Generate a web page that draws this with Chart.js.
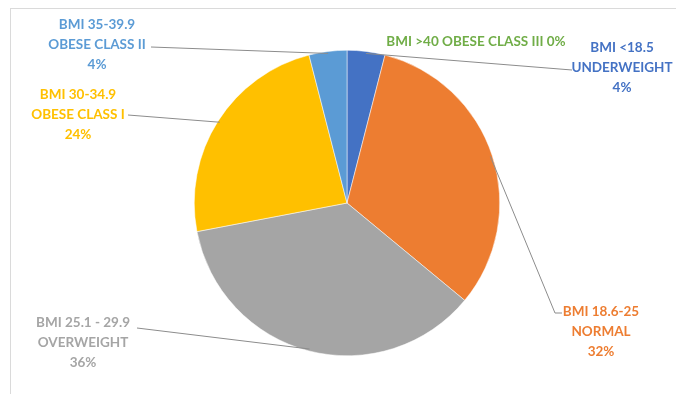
<!DOCTYPE html>
<html>
<head>
<meta charset="utf-8">
<script src="https://cdn.jsdelivr.net/npm/chart.js@4"></script>
<style>
  html, body { margin: 0; padding: 0; background: #fff; }
  #wrap { position: relative; width: 676px; height: 394px; }
  #frame { position: absolute; left: 10px; top: 8px; width: 700px; height: 400px; border: 1px solid #dadada; }
</style>
</head>
<body>
<div id="wrap">
  <div id="frame"></div>
  <canvas id="bmiChart" width="676" height="394"></canvas>
</div>
<script>
// categories (label line 1, line 2) and shares in %
const rangeLabels = ['BMI <18.5', 'BMI 18.6-25', 'BMI 25.1 - 29.9', 'BMI 30-34.9', 'BMI 35-39.9', 'BMI >40'];
const classLabels = ['UNDERWEIGHT', 'NORMAL', 'OVERWEIGHT', 'OBESE CLASS I', 'OBESE CLASS II', 'OBESE CLASS III'];
const shares = [4, 32, 36, 24, 4, 0];
const colors = ['#4472C4', '#ED7D31', '#A5A5A5', '#FFC000', '#5B9BD5', '#70AD47'];

// where each data label sits (center x, first line y) and where its leader meets it
const labelPlaces = [
  { x: 622, y: 48, lead: [572, 70], single: false },
  { x: 601, y: 312, lead: [562, 313], bend: [555, 313], single: false },
  { x: 83, y: 323, lead: [137, 328], single: false },
  { x: 78, y: 95, lead: [128, 115], single: false },
  { x: 97, y: 25, lead: [151, 47], single: false },
  { x: 476, y: 42, lead: null, single: true }
];

// data labels with leader lines, drawn by hand like excel does
const leaderLabels = {
  id: 'leaderLabels',
  afterDatasetsDraw(chart) {
    const ctx = chart.ctx;
    const meta = chart.getDatasetMeta(0);
    ctx.save();
    ctx.font = 'bold 13.5px Lato, "Open Sans", sans-serif';
    ctx.textAlign = 'center';
    ctx.textBaseline = 'middle';
    meta.data.forEach((arc, i) => {
      const place = labelPlaces[i];
      const p = arc.getProps(['x', 'y', 'startAngle', 'endAngle', 'outerRadius'], true);
      const mid = (p.startAngle + p.endAngle) / 2;
      if (place.lead) {
        const ex = p.x + Math.cos(mid) * (p.outerRadius - 2);
        const ey = p.y + Math.sin(mid) * (p.outerRadius - 2);
        ctx.strokeStyle = '#8c8c8c';
        ctx.lineWidth = 1;
        ctx.beginPath();
        ctx.moveTo(ex, ey);
        if (place.bend) ctx.lineTo(place.bend[0], place.bend[1]);
        ctx.lineTo(place.lead[0], place.lead[1]);
        ctx.stroke();
      }
      ctx.fillStyle = colors[i];
      if (place.single) {
        ctx.fillText(rangeLabels[i] + ' ' + classLabels[i] + ' ' + shares[i] + '%', place.x, place.y);
      } else {
        ctx.fillText(rangeLabels[i], place.x, place.y);
        ctx.fillText(classLabels[i], place.x, place.y + 20);
        ctx.fillText(shares[i] + '%', place.x, place.y + 40);
      }
    });
    ctx.restore();
  }
};

const ctx = document.getElementById('bmiChart').getContext('2d');
new Chart(ctx, {
  type: 'pie',
  data: {
    labels: classLabels,
    datasets: [{
      data: shares,
      backgroundColor: colors,
      borderColor: '#ffffff',
      borderWidth: 0.5
    }]
  },
  options: {
    responsive: false,
    animation: false,
    layout: { padding: { left: 194, right: 176, top: 50, bottom: 38 } },
    plugins: {
      legend: { display: false },
      tooltip: { enabled: false }
    }
  },
  plugins: [leaderLabels]
});
</script>
</body>
</html>
